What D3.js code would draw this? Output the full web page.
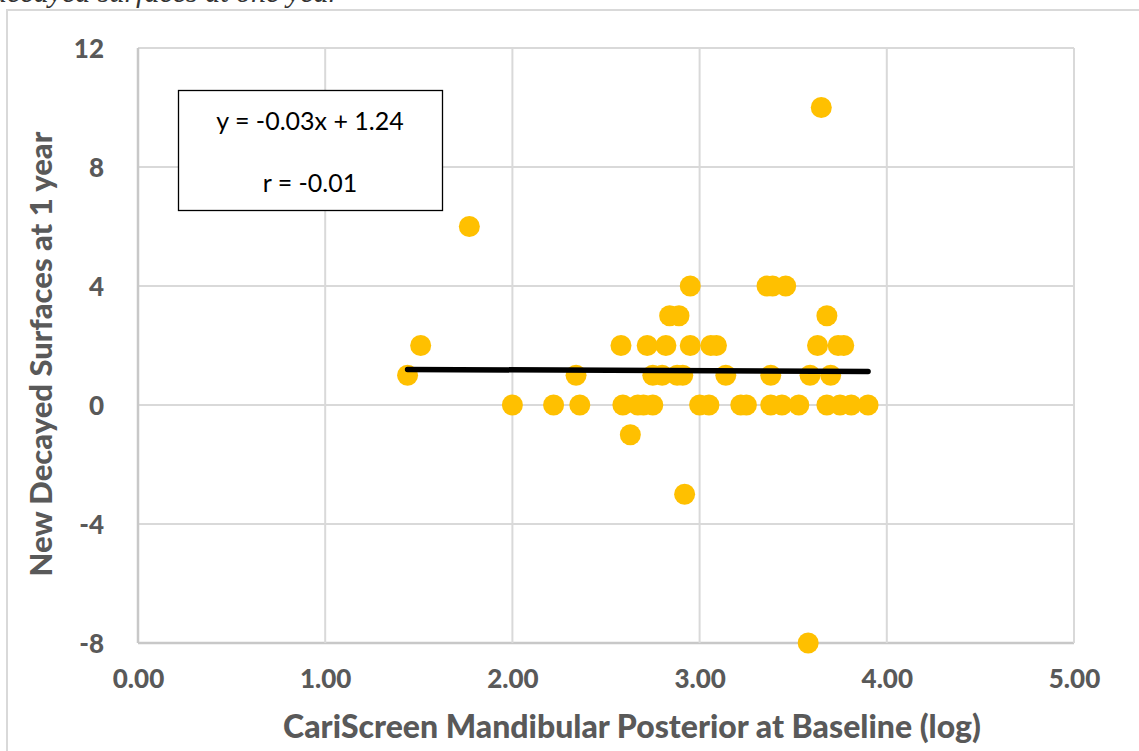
<!DOCTYPE html>
<html><head><meta charset="utf-8">
<script src="https://cdn.jsdelivr.net/npm/d3@7"></script>
<style>body{margin:0;background:#fff;overflow:hidden}svg{display:block}</style>
</head><body>
<svg id="c" width="1139" height="751"></svg>
<script>
const xTicks = [0,1,2,3,4,5];
const yTicks = [-8,-4,0,4,8,12];
const xValues = [1.44,1.51,1.77,2.00,2.22,2.34,2.36,2.58,2.59,2.63,2.67,2.70,2.75,2.72,2.82,2.75,2.80,2.84,2.89,2.95,2.95,2.88,2.91,3.06,3.09,3.00,3.05,3.14,3.22,3.25,2.92,3.38,3.44,3.53,3.68,3.75,3.81,3.90,3.36,3.39,3.46,3.68,3.63,3.74,3.77,3.38,3.59,3.70,3.58,3.65];
const yValues = [1,2,6,0,0,1,0,2,0,-1,0,0,0,2,2,1,1,3,3,4,2,1,1,2,2,0,0,1,0,0,-3,0,0,0,0,0,0,0,4,4,4,3,2,2,2,1,1,1,-8,10];
const slope = -0.03, intercept = 1.24;
const eqLabels = ["y = -0.03x + 1.24", "r = -0.01"];
const xTitle = "CariScreen Mandibular Posterior at Baseline (log)";
const yTitle = "New Decayed Surfaces at 1 year";
const topText = "decayed surfaces at one year";

const svg = d3.select("#c");
const L = 138, R = 1074, T = 48, B = 643;
const x = d3.scaleLinear().domain([0,5]).range([L,R]);
const y = d3.scaleLinear().domain([-8,12]).range([B,T]);
const grid = "#d9d9d9", txt = "#595959";

svg.append("text").attr("x",-8).attr("y",2).attr("font-family","Liberation Serif")
  .attr("font-style","italic").attr("font-size",30).attr("fill","#333").text(topText);
svg.append("rect").attr("x",7).attr("y",10).attr("width",1150).attr("height",760)
  .attr("fill","none").attr("stroke",grid).attr("stroke-width",2);

// gridlines
svg.append("g").selectAll("line").data(yTicks).join("line")
  .attr("x1",L).attr("x2",R).attr("y1",d=>y(d)).attr("y2",d=>y(d))
  .attr("stroke",d=>d===-8?"#c8c8c8":grid).attr("stroke-width",d=>d===-8?2.5:2);
svg.append("g").selectAll("line").data(xTicks).join("line")
  .attr("y1",T).attr("y2",B).attr("x1",d=>x(d)).attr("x2",d=>x(d))
  .attr("stroke",d=>d===0?"#c8c8c8":grid).attr("stroke-width",d=>d===0?2.5:2);

// axes via d3
const xa = svg.append("g").attr("transform",`translate(0,${B})`)
  .call(d3.axisBottom(x).tickValues(xTicks).tickFormat(d=>d.toFixed(2)).tickSize(0).tickPadding(36));
const ya = svg.append("g").attr("transform",`translate(${L},0)`)
  .call(d3.axisLeft(y).tickValues(yTicks).tickFormat(d=>String(d)).tickSize(0).tickPadding(34));
[xa,ya].forEach(a=>{a.select(".domain").remove();
  a.selectAll("text").attr("font-family","Lato").attr("font-weight",900).attr("font-size",26).attr("fill",txt);});
xa.selectAll("text").attr("dy","0.35em");
ya.selectAll("text").attr("dy","0.35em");

// points
svg.append("g").selectAll("circle").data(xValues.map((v,i)=>[v,yValues[i]])).join("circle")
  .attr("cx",d=>x(d[0])).attr("cy",d=>y(d[1])).attr("r",10.5).attr("fill","#FFC000");

// trend line
const x0 = d3.min(xValues), x1 = d3.max(xValues);
svg.append("line").attr("x1",x(x0)).attr("x2",x(x1))
  .attr("y1",y(slope*x0+intercept)).attr("y2",y(slope*x1+intercept))
  .attr("stroke","#000").attr("stroke-width",5.5).attr("stroke-linecap","round");

// equation box
svg.append("rect").attr("x",178.5).attr("y",90.5).attr("width",264).attr("height",120)
  .attr("fill","#fff").attr("stroke","#000").attr("stroke-width",1.3);
svg.append("g").selectAll("text").data(eqLabels).join("text")
  .attr("x",310).attr("y",(d,i)=>121+i*62).attr("dy","0.35em").attr("text-anchor","middle")
  .attr("font-family","Lato").attr("font-size",25).attr("fill","#000").text(d=>d);

// titles
svg.append("text").attr("x",632).attr("y",738).attr("text-anchor","middle")
  .attr("font-family","Lato").attr("font-weight",900).attr("font-size",32).attr("fill",txt).text(xTitle);
svg.append("text").attr("transform","translate(52,354) rotate(-90)").attr("text-anchor","middle")
  .attr("font-family","Lato").attr("font-weight",900).attr("font-size",31).attr("fill",txt).text(yTitle);
</script>
</body></html>
